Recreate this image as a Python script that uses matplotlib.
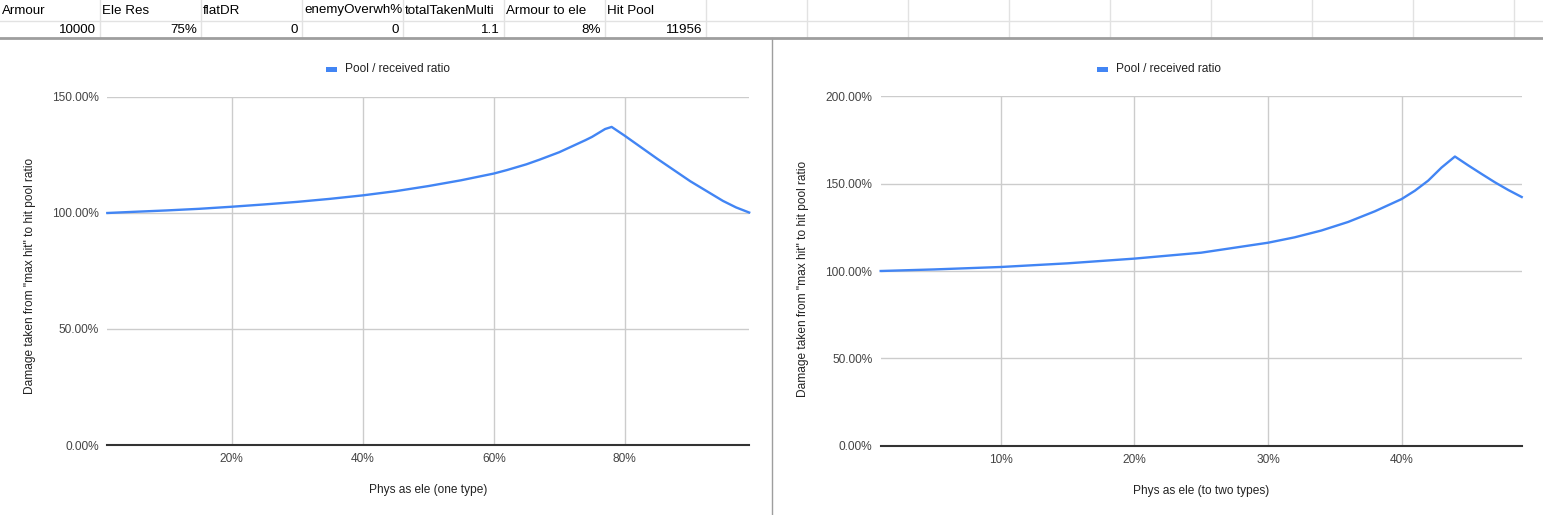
import matplotlib
matplotlib.use("Agg")
import matplotlib.pyplot as plt
from matplotlib.patches import Rectangle

plt.rcParams['font.family'] = ['Liberation Sans', 'DejaVu Sans']

# ------------------------------------------------------------
# Data
# ------------------------------------------------------------

# spreadsheet row shown above the charts
header_names = ["Armour", "Ele Res", "flatDR", "enemyOverwh%",
                "totalTakenMulti", "Armour to ele", "Hit Pool"]
header_values = ["10000", "75%", "0", "0", "1.1", "8%", "11956"]

# chart 1 - phys as ele (one type), x in %, y in %
one_x = [1, 5, 10, 15, 20, 25, 30, 35, 40, 45, 50, 55, 60, 62, 65, 67,
         70, 72, 74, 75, 76, 77, 78, 80, 85, 90, 95, 97, 99]
one_y = [100.0, 100.5, 101.1, 101.8, 102.7, 103.7, 104.8, 106.1, 107.6,
         109.4, 111.6, 114.1, 117.0, 118.5, 121.0, 123.0, 126.2, 128.8,
         131.4, 132.8, 134.5, 136.2, 137.1, 133.3, 123.3, 113.7, 105.2,
         102.4, 100.2]

# chart 2 - phys as ele (to two types)
two_x = [1, 5, 10, 15, 20, 25, 30, 32, 34, 36, 38, 40, 41, 42, 43,
         44, 45, 46, 47, 48, 49]
two_y = [100.0, 100.9, 102.3, 104.4, 107.1, 110.5, 116.2, 119.3, 123.2,
         128.1, 134.2, 141.2, 146.0, 151.8, 159.3, 165.6, 160.5, 155.6,
         150.8, 146.4, 142.4]

series_name = "Pool / received ratio"
y_title = "Damage taken from \"max hit\" to hit pool ratio"

# ------------------------------------------------------------
# Figure and a pixel-space background axes
# ------------------------------------------------------------
W, H = 1543, 515
fig = plt.figure(figsize=(W / 100, H / 100), dpi=100)

bg = fig.add_axes([0, 0, 1, 1])
bg.set_xlim(0, W)
bg.set_ylim(H, 0)
bg.axis('off')


def px_rect(x0, y0, x1, y1):
    return [x0 / W, 1 - y1 / H, (x1 - x0) / W, (y1 - y0) / H]


# spreadsheet grid
col_w = 101
bounds = [100 + col_w * k for k in range(15)]
for b in bounds:
    bg.plot([b, b], [0, 38], color='#e2e2e2', lw=1)
bg.plot([0, W], [21, 21], color='#e2e2e2', lw=1)
bg.plot([0, W], [38, 38], color='#9e9e9e', lw=2)

col_left = [0] + bounds
for i in range(len(header_names)):
    bg.text(col_left[i] + 2, 10.5, header_names[i], fontsize=9.6,
            color='black', ha='left', va='center')
    bg.text(col_left[i + 1] - 4, 30, header_values[i], fontsize=9.6,
            color='black', ha='right', va='center')

# divider between the two charts
bg.plot([772, 772], [38, H], color='#9e9e9e', lw=1)


# ------------------------------------------------------------
# Charts
# ------------------------------------------------------------
def draw_chart(rect, xs, ys, xticks, yticks, xlabel):
    ax = fig.add_axes(rect)
    ax.plot(xs, ys, color='#4285F4', lw=1.7, solid_joinstyle='round',
            clip_on=False, zorder=3)
    ax.set_xlim(xs[0], xs[-1])
    ax.set_ylim(yticks[0], yticks[-1])
    ax.set_xticks(xticks)
    ax.set_xticklabels([f"{t}%" for t in xticks])
    ax.set_yticks(yticks)
    ax.set_yticklabels([f"{t:.2f}%" for t in yticks])
    ax.grid(True, color='#cccccc', lw=1)
    ax.set_axisbelow(True)
    for s in ax.spines.values():
        s.set_visible(False)
    ax.axhline(yticks[0], color='#333333', lw=1.5, clip_on=False, zorder=2)
    ax.tick_params(length=0, pad=6, labelsize=8.6, colors='#444444')
    ax.set_xlabel(xlabel, fontsize=8.6, color='#222222', labelpad=13.5)
    return ax


ax1 = draw_chart(px_rect(107.3, 97, 749.2, 445), one_x, one_y,
                 [20, 40, 60, 80], [0, 50, 100, 150],
                 "Phys as ele (one type)")
ax2 = draw_chart(px_rect(880.7, 96.5, 1521.7, 445.5), two_x, two_y,
                 [10, 20, 30, 40], [0, 50, 100, 150, 200],
                 "Phys as ele (to two types)")

# y axis titles
bg.text(30, 276, y_title, rotation=90, fontsize=8.6, color='#222222',
        ha='center', va='center')
bg.text(803, 279, y_title, rotation=90, fontsize=8.6, color='#222222',
        ha='center', va='center')

# legends
for lx in [326, 1097]:
    bg.add_patch(Rectangle((lx, 66.5), 11, 5, color='#4285F4', lw=0))
    bg.text(lx + 19, 69, series_name, fontsize=8.6, color='#222222',
            ha='left', va='center')

fig.savefig("out.png", dpi=100)
